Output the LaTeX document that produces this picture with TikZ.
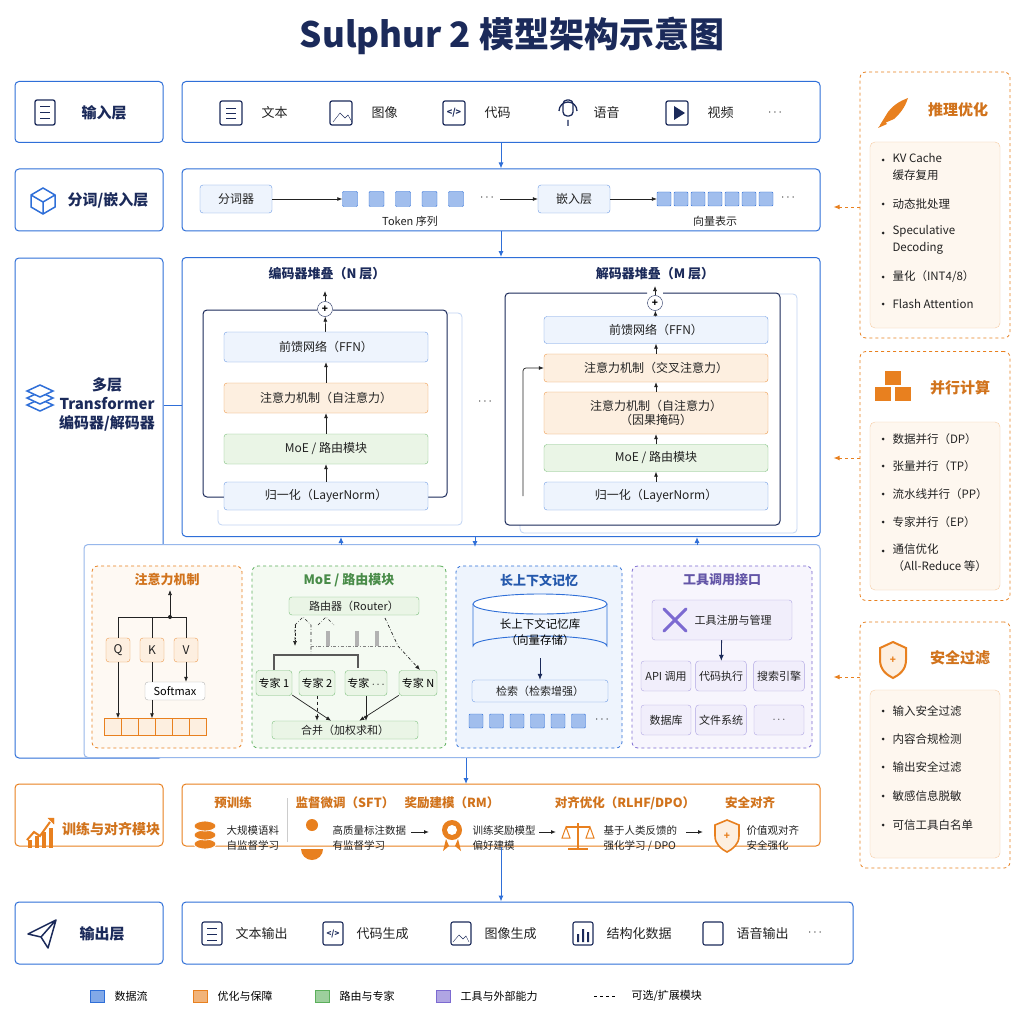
\documentclass[tikz,border=0pt]{standalone}
\usepackage{fontspec}
\setmainfont{Noto Sans CJK SC}
\usetikzlibrary{arrows.meta,positioning,shapes.geometric}
\definecolor{bl}{HTML}{2F6FD8}
\definecolor{blf}{HTML}{EEF4FD}
\definecolor{navy}{HTML}{1B2A5A}
\definecolor{org}{HTML}{E8801F}
\definecolor{orf}{HTML}{FDEFE0}
\definecolor{grn}{HTML}{5BAF5B}
\definecolor{grf}{HTML}{EAF5E6}
\definecolor{pur}{HTML}{7C6AD1}
\definecolor{puf}{HTML}{F1EEFB}
\definecolor{txt}{HTML}{222222}
\tikzset{
  panel/.style={draw=bl, line width=1pt, rounded corners=4pt, fill=white},
  opanel/.style={draw=org, line width=1pt, rounded corners=4pt, fill=white},
  dpanel/.style={draw=#1, dashed, line width=0.8pt, rounded corners=6pt},
  blk/.style={draw=bl!70, fill=blf, rounded corners=3pt, font=\fontsize{12}{14}\selectfont, text=txt, align=center},
  oblk/.style={draw=org!80, fill=orf, rounded corners=3pt, font=\fontsize{12}{14}\selectfont, text=txt, align=center},
  gblk/.style={draw=grn!80, fill=grf, rounded corners=3pt, font=\fontsize{12}{14}\selectfont, text=txt, align=center},
  pblk/.style={draw=pur!60, fill=puf, rounded corners=3pt, font=\fontsize{11}{13}\selectfont, text=txt, align=center},
  sq/.style={draw=bl, fill=bl!45, rounded corners=1pt, minimum size=15pt, inner sep=0pt},
  lbl/.style={font=\fontsize{13}{15}\selectfont, text=txt},
  sml/.style={font=\fontsize{11}{14}\selectfont, text=txt, align=left},
  head/.style={font=\fontsize{15}{17}\selectfont\bfseries, text=navy, align=center},
  flow/.style={-{Latex[length=6pt,width=5pt]}, bl, line width=1pt},
  kflow/.style={-{Latex[length=5pt,width=4pt]}, txt, line width=0.7pt},
  oflow/.style={-{Latex[length=6pt,width=5pt]}, org, dashed, line width=0.9pt},
  item/.style={sml, anchor=west},
}
\begin{document}
\begin{tikzpicture}[x=1pt,y=1pt,yscale=-1]
\useasboundingbox[fill=white] (0,0) rectangle (1024,1024);
\node[font=\fontsize{35}{38}\selectfont\bfseries, text=navy] (title) at (512,36) {Sulphur 2 模型架构示意图};

% left column
\node[panel, minimum width=148, minimum height=61] (lin) at (89,112) {};
\node[panel, minimum width=148, minimum height=62] (ltok) at (89,200) {};
\node[panel, minimum width=148, minimum height=500] (ltf) at (89,508) {};
\node[opanel, minimum width=148, minimum height=62] (ltrain) at (89,815) {};
\node[panel, minimum width=148, minimum height=62] (lout) at (89,933) {};
\node[head] at (104,113) {输入层};
\node[head] at (108,200) {分词/嵌入层};
\node[head, font=\fontsize{15}{19}\selectfont\bfseries] at (107,404) {多层\\Transformer\\编码器/解码器};
\node[head, font=\fontsize{14}{17}\selectfont\bfseries, text=org!90!black] at (111,829) {训练与对齐模块};
\node[head] at (102,934) {输出层};
% left icons
\draw[navy, line width=1.3pt, rounded corners=2pt] (35,100) rectangle (55,125);
\foreach \yy in {107,113,119} \draw[navy, line width=1pt] (40,\yy) -- (50,\yy);
\draw[bl, line width=1.5pt] (31,195) -- (43,188) -- (55,195) -- (55,207) -- (43,214) -- (31,207) -- cycle (31,195) -- (43,202) -- (55,195) (43,202) -- (43,214);
\foreach \dy in {14,7,0} \draw[bl, line width=1.5pt, fill=white] (27,391+\dy) -- (40,385+\dy) -- (53,391+\dy) -- (40,397+\dy) -- cycle;
\draw[org, line width=2pt] (27,840) -- (34,832) -- (40,836) -- (50,822);
\draw[org, fill=org] (48,818) -- (54,818) -- (54,824) -- cycle;
\foreach \xx/\hh in {28/8,35/12,42/16,49/20} \fill[org] (\xx,848-\hh) rectangle (\xx+4,848);
\draw[navy, line width=1.5pt, line join=round] (28,934) -- (56,920) -- (48,948) -- (41,937) -- cycle (41,937) -- (56,920);

% input row
\node[panel, minimum width=638, minimum height=61] (inrow) at (501,112) {};
\foreach \x/\t in {220/文本,330/图像,443/代码,666/视频}{
  \draw[navy, line width=1.2pt, rounded corners=2pt] (\x,101) rectangle (\x+22,125);
  \node[lbl, anchor=west] at (\x+38,113) {\t};
}
\draw[navy, line width=1.3pt, rounded corners=4pt] (563,100) rectangle (573,116);
\draw[navy, line width=1.3pt] (559,111) arc[start angle=180, end angle=360, radius=9] (568,120) -- (568,126);
\node[lbl, anchor=west] at (590,113) {语音};
\node[lbl] at (775,113) {$\cdots$};
\node[font=\fontsize{9}{9}\selectfont\bfseries, text=navy] at (454,113) {</>};
\draw[navy] (226,108) -- (236,108) (226,113) -- (236,113) (226,118) -- (236,118);
\draw[navy] (333,122) -- (340,113) -- (345,118) -- (348,115) -- (352,122);
\fill[navy] (674,106) -- (674,120) -- (685,113) -- cycle;

% tokenization row
\node[panel, minimum width=638, minimum height=62] (tokrow) at (501,200) {};
\node[blk, minimum width=72, minimum height=28] (tokz) at (236,199) {分词器};
\foreach \i in {0,...,4} \node[sq] (t\i) at (350+\i*26.5,199) {};
\node[lbl] at (487,198) {$\cdots$};
\node[sml, font=\fontsize{11}{13}\selectfont] at (410,221) {Token 序列};
\draw[kflow] (tokz) -- (t0);
\node[blk, minimum width=72, minimum height=28] (emb) at (574,199) {嵌入层};
\coordinate (pre) at (500,199);
\draw[kflow] (pre) -- (emb);
\foreach \i in {0,...,6} \node[sq, minimum size=14pt] (v\i) at (664+\i*17,199) {};
\draw[kflow] (emb) -- (v0);
\node[lbl] at (788,198) {$\cdots$};
\node[sml, font=\fontsize{11}{13}\selectfont] at (715,221) {向量表示};

% transformer area
\node[panel, minimum width=638, minimum height=279] (tfrow) at (501,397) {};
\node[head, font=\fontsize{13}{15}\selectfont\bfseries] at (327,274) {编码器堆叠（N 层）};
\node[head, font=\fontsize{13}{15}\selectfont\bfseries] at (655,274) {解码器堆叠（M 层）};
% encoder
\draw[bl!30, line width=0.8pt, rounded corners=4pt] (447,313) -- (462,313) -- (462,525) -- (218,525) -- (218,510);
\draw[navy, line width=1pt, rounded corners=4pt] (317,310) -- (203,310) -- (203,497) -- (224,497);
\draw[navy, line width=1pt, rounded corners=4pt] (333,310) -- (447,310) -- (447,497) -- (428,497);
\node[blk, minimum width=204, minimum height=30] (effn) at (326,347) {前馈网络（FFN）};
\node[oblk, minimum width=204, minimum height=30] (eatt) at (326,398) {注意力机制（自注意力）};
\node[gblk, minimum width=204, minimum height=30] (emoe) at (326,449) {MoE / 路由模块};
\node[blk, minimum width=204, minimum height=28] (eln) at (326,496) {归一化（LayerNorm）};
\node[circle, draw=navy, fill=white, inner sep=0pt, minimum size=15pt, font=\bfseries] (eplus) at (325,309) {+};
\coordinate (etop) at (325,291);
\draw[kflow] (eln) -- (emoe);
\draw[kflow] (emoe) -- (eatt);
\draw[kflow] (eatt) -- (effn);
\draw[kflow] (effn) -- (eplus);
\draw[kflow] (eplus) -- (etop);
\node[lbl] at (485,402) {$\cdots$};
% decoder
\draw[bl!30, line width=0.8pt, rounded corners=4pt] (780,294) -- (797,294) -- (797,533) -- (520,533) -- (520,525);
\draw[navy, line width=1pt, rounded corners=4pt] (647,293) -- (505,293) -- (505,525) -- (780,525) -- (780,293) -- (663,293);
\node[blk, minimum width=224, minimum height=27] (dffn) at (656,330) {前馈网络（FFN）};
\node[oblk, minimum width=224, minimum height=28] (dcross) at (656,368) {注意力机制（交叉注意力）};
\node[oblk, minimum width=224, minimum height=42] (dself) at (656,413) {注意力机制（自注意力）\\（因果掩码）};
\node[gblk, minimum width=224, minimum height=27] (dmoe) at (656,458) {MoE / 路由模块};
\node[blk, minimum width=224, minimum height=28] (dln) at (656,496) {归一化（LayerNorm）};
\node[circle, draw=navy, fill=white, inner sep=0pt, minimum size=15pt, font=\bfseries] (dplus) at (655,303) {+};
\coordinate (dtop) at (655,286);
\coordinate (dside) at (523,496);
\draw[kflow] (dln) -- (dmoe);
\draw[kflow] (dmoe) -- (dself);
\draw[kflow] (dself) -- (dcross);
\draw[kflow] (dcross) -- (dffn);
\draw[kflow] (dffn) -- (dplus);
\draw[kflow] (dplus) -- (dtop);
\draw[kflow, rounded corners=3pt] (dside) |- (dcross.west);

% module strip
\node[panel, draw=bl!50, minimum width=736, minimum height=213] (strip) at (452,651) {};
\node[dpanel=org, fill=orf!40, minimum width=150, minimum height=182] (patt) at (167,657) {};
\node[dpanel=grn, fill=grf!50, minimum width=194, minimum height=182] (pmoe) at (349,657) {};
\node[dpanel=bl, fill=blf, minimum width=166, minimum height=182] (pmem) at (539,657) {};
\node[dpanel=pur, fill=puf!60, minimum width=180, minimum height=182] (ptool) at (722,657) {};
\node[font=\fontsize{13}{15}\selectfont\bfseries, text=org!90!black] at (167,580) {注意力机制};
\node[font=\fontsize{13}{15}\selectfont\bfseries, text=grn!80!black] at (349,580) {MoE / 路由模块};
\node[font=\fontsize{13}{15}\selectfont\bfseries, text=bl!80!black] at (539,580) {长上下文记忆};
\node[font=\fontsize{13}{15}\selectfont\bfseries, text=pur!80!black] at (722,580) {工具调用接口};
% attention
\foreach \n/\x in {Q/118,K/152,V/186} \node[oblk, minimum size=24pt, inner sep=0pt] (a\n) at (\x,650) {\n};
\node[draw=gray!60, fill=white, rounded corners=3pt, minimum width=60, minimum height=18, font=\fontsize{11}{13}\selectfont] (smax) at (175,691) {Softmax};
\foreach \i in {0,...,5} \node[draw=org, fill=orf, minimum width=17, minimum height=17, inner sep=0pt] (c\i) at (112.5+\i*17,727) {};
\coordinate (aout) at (170,590);
\coordinate (ajoin) at (170,617);
\draw[txt, line width=0.7pt] (aQ.north) |- (aV.north |- ajoin) -- (aV.north) (aK.north) -- (aK.north |- ajoin);
\fill[txt] (ajoin) circle (2pt);
\draw[kflow] (ajoin) -- (aout);
\draw[kflow] (aQ) -- (aQ |- c0.north);
\draw[txt, line width=0.7pt] (aK.south) -- (aK.south |- smax.north);
\draw[kflow] (smax.south -| aK) -- (aK |- c2.north);
\draw[kflow] (aV) -- (aV |- smax.north);
% moe
\node[gblk, minimum width=130, minimum height=18, font=\fontsize{11}{13}\selectfont] (router) at (354,606) {路由器（Router）};
\foreach \n/\x/\w in {1/274/36,2/317/36,3/366/42,4/418/38} \node[gblk, minimum width=\w, minimum height=25, inner sep=1pt, font=\fontsize{11}{13}\selectfont] (ex\n) at (\x,683) {};
\node[font=\fontsize{11}{13}\selectfont] at (ex1) {专家 1};
\node[font=\fontsize{11}{13}\selectfont] at (ex2) {专家 2};
\node[font=\fontsize{11}{13}\selectfont] at (ex3) {专家 $\cdots$};
\node[font=\fontsize{11}{13}\selectfont] at (ex4) {专家 N};
\node[gblk, minimum width=146, minimum height=18, font=\fontsize{11}{13}\selectfont] (merge) at (345,730) {合并（加权求和）};
\draw[txt, dashdotted, line width=0.6pt] (295,640) -- (295,625) -- (303,617) -- (311,625) -- (311,655) (318,625) -- (326,617) -- (334,625);
\foreach \x in {328,357,377} \fill[gray!60] (\x-2,631) rectangle (\x+2,646);
\draw[gray, dashdotted] (311,646) -- (395,646);
\draw[kflow, dashdotted] (385,618) -- (398,646) -- (420,670);
\draw[kflow, dashdotted] (295,625) -- (295,646);
\draw[gray!70!black, line width=1.2pt] (274,670) -- (274,655) -- (358,655) -- (358,668);
\draw[kflow] (ex1) -- (merge);
\draw[kflow, dashed] (ex2) -- (ex2 |- merge.north);
\draw[kflow] (ex3) -- (ex3 |- merge.north);
\draw[kflow] (ex4) -- (merge);
% memory
\draw[bl, line width=0.9pt, fill=blf] (473,604) -- (473,646) arc[start angle=180, end angle=360, x radius=67, y radius=10] -- (607,604);
\draw[bl, line width=0.9pt, fill=white] (540,604) ellipse[x radius=67, y radius=10];
\node[font=\fontsize{11.5}{16}\selectfont, align=center] (memdb) at (540,632) {长上下文记忆库\\（向量存储）};
\node[blk, minimum width=136, minimum height=22, font=\fontsize{11}{13}\selectfont] (retr) at (540,691) {检索（检索增强）};
\coordinate (dbbot) at (540,658);
\draw[flow, navy, line width=0.8pt] (dbbot) -- (retr);
\foreach \i in {0,...,5} \node[sq, minimum size=14pt] (m\i) at (476+\i*20.5,721) {};
\node[lbl] at (602,720) {$\cdots$};
% tools
\node[pblk, minimum width=140, minimum height=40] (treg) at (722,620) {\hspace{22pt}工具注册与管理};
\draw[pur, line width=3pt, line cap=round] (664,609) -- (686,631) (686,609) -- (664,631);
\foreach \n/\x/\y/\t in {g1/666/676/API 调用,g2/721/676/代码执行,g3/779/676/搜索引擎,g4/666/720/数据库,g5/721/720/文件系统,g6/779/720/$\cdots$}
  \node[pblk, minimum width=50, minimum height=30] (\n) at (\x,\y) {\t};
\draw[flow, navy, line width=0.8pt] (treg) -- (g2);

% training row
\node[opanel, minimum width=638, minimum height=62] (trrow) at (501,815) {};
\draw[gray!40] (287,798) -- (287,842);
\foreach \x/\t in {233/预训练,345/监督微调（SFT）,452/奖励建模（RM）,625/{对齐优化（RLHF/DPO）},750/安全对齐}
  \node[font=\fontsize{12.5}{14}\selectfont\bfseries, text=org!90!black] at (\x,803) {\t};
\foreach \n/\x/\t in {s1/223/{大规模语料\\自监督学习},s2/329/{高质量标注数据\\有监督学习},s3/469/{训练奖励模型\\偏好建模},s4/600/{基于人类反馈的\\强化学习 / DPO},s5/743/{价值观对齐\\安全强化}}
  \node[sml, font=\fontsize{10.5}{15}\selectfont, anchor=west] (\n) at (\x,838) {\t};
\foreach \a/\b in {411/429,539/556,686/703}{
  \coordinate (ta) at (\a,832); \coordinate (tb) at (\b,832);
  \draw[kflow, line width=1pt] (ta) -- (tb);
}
% training icons
\foreach \yy in {844,835,826} \draw[org, fill=org, draw=white, line width=0.8pt] (205,\yy) ellipse[x radius=11, y radius=5];
\fill[org] (312,825) circle (6) (301,849) arc[start angle=180, end angle=0, radius=11] -- cycle;
\fill[org] (446,839) -- (443,851) -- (449,846) -- cycle (458,839) -- (461,851) -- (455,846) -- cycle;
\fill[org] (452,830) circle (10); \fill[white] (452,830) circle (5);
\draw[org, line width=1.5pt] (578,823) -- (578,849) (568,849) -- (588,849) (566,827) -- (590,827);
\draw[org, line width=1pt] (566,827) -- (562,838) -- (570,838) -- cycle (590,827) -- (586,838) -- (594,838) -- cycle;
\draw[org, line width=1.6pt, fill=orf] (715,825) -- (727,820) -- (739,825) -- (739,836) .. controls (739,844) and (733,849) .. (727,852) .. controls (721,849) and (715,844) .. (715,836) -- cycle;
\node[text=org, font=\bfseries] at (727,836) {+};

% output row
\node[panel, minimum width=671, minimum height=62] (outrow) at (517.5,933) {};
\foreach \x/\t in {212/文本输出,333/代码生成,461/图像生成,583/结构化数据,713/语音输出}{
  \draw[navy, line width=1.1pt, rounded corners=2pt] (\x-10,922) rectangle (\x+10,945);
  \node[lbl, anchor=west] at (\x+20,934) {\t};
}
\draw[navy] (207,928) -- (217,928) (207,934) -- (217,934) (207,940) -- (217,940);
\node[font=\fontsize{8}{8}\selectfont\bfseries, text=navy] at (333,934) {</>};
\draw[navy] (453,942) -- (459,935) -- (463,939) -- (466,936) -- (469,942);
\fill[navy] (577,934) rectangle (579,942) (582,929) rectangle (584,942) (587,932) rectangle (589,942);
\node[lbl] at (815,933) {$\cdots$};

% main flow
\draw[flow] (inrow) -- (tokrow);
\draw[flow] (tokrow) -- (tfrow);
\coordinate (s1a) at (341,545); \draw[flow] (s1a) -- ++(0,-8);
\coordinate (s2a) at (475,537); \draw[flow] (s2a) -- ++(0,10);
\coordinate (s3a) at (697,545); \draw[flow] (s3a) -- ++(0,-8);
\coordinate (stb) at (466,758); \draw[flow] (stb) -- ++(0,26);
\draw[flow] (trrow.south) -- (trrow.south |- outrow.north);
\draw[bl, line width=1pt] (ltf.east |- 0,405) -- (tfrow.west |- 0,405);

% right column
\node[dpanel=org, fill=white, minimum width=150, minimum height=266] (r1) at (935,205) {};
\node[dpanel=org, fill=white, minimum width=150, minimum height=249] (r2) at (935,476) {};
\node[dpanel=org, fill=white, minimum width=150, minimum height=246] (r3) at (935,745) {};
\node[draw=org!40, fill=orf!50, rounded corners=5pt, minimum width=130, minimum height=186] at (935,235) {};
\node[draw=org!40, fill=orf!50, rounded corners=5pt, minimum width=130, minimum height=168] at (935,506) {};
\node[draw=org!40, fill=orf!50, rounded corners=5pt, minimum width=130, minimum height=168] at (935,774) {};
\node[font=\fontsize{15}{17}\selectfont\bfseries, text=org!90!black] at (958,110) {推理优化};
\node[font=\fontsize{15}{17}\selectfont\bfseries, text=org!90!black] at (960,388) {并行计算};
\node[font=\fontsize{15}{17}\selectfont\bfseries, text=org!90!black] at (960,658) {安全过滤};
% right icons
\fill[org] (880,125) -- (888,112) .. controls (895,103) and (903,100) .. (908,98) .. controls (906,104) and (903,111) .. (894,119) -- cycle;
\fill[org] (878,128) -- (884,120) -- (887,124) -- cycle;
\foreach \xx/\yy in {893/378,883/394,903/394} \fill[org] (\xx-8,\yy-7) rectangle (\xx+8,\yy+7);
\draw[org, line width=2pt, fill=orf] (880,648) -- (893,642) -- (906,648) -- (906,660) .. controls (906,670) and (899,675) .. (893,678) .. controls (887,675) and (880,670) .. (880,660) -- cycle;
\node[text=org, font=\bfseries] at (893,660) {+};
\foreach \y/\t in {167/{KV Cache\\缓存复用},204/动态批处理,240/{Speculative\\Decoding},277/{量化（INT4/8）},304/Flash Attention,
                   439/数据并行（DP）,466/张量并行（TP）,494/流水线并行（PP）,522/专家并行（EP）,558/{通信优化\\（All-Reduce 等）},
                   711/输入安全过滤,739/内容合规检测,767/输出安全过滤,796/敏感信息脱敏,825/可信工具白名单}{
  \node[item, font=\fontsize{11.5}{17}\selectfont] at (889,\y) {\t};
}
\foreach \y in {160,204,233,277,304,439,466,494,522,551,711,739,767,796,825} \fill[txt] (883,\y) circle (1.5);
\foreach \n/\y in {r1/207,r2/458,r3/677} \draw[oflow] (\n.west |- 0,\y) -- ++(-26,0);

% legend
\foreach \x/\c/\t in {97/bl/数据流,200/org/优化与保障,322/grn/路由与专家,443/pur/工具与外部能力}{
  \fill[\c!60, draw=\c] (\x-7,990) rectangle (\x+7,1002);
  \node[font=\fontsize{11}{13}\selectfont, anchor=west] at (\x+14,996) {\t};
}
\draw[dashed, line width=1pt] (594,996) -- (616,996);
\node[font=\fontsize{11}{13}\selectfont, anchor=west] at (628,996) {可选/扩展模块};
\end{tikzpicture}
\end{document}
